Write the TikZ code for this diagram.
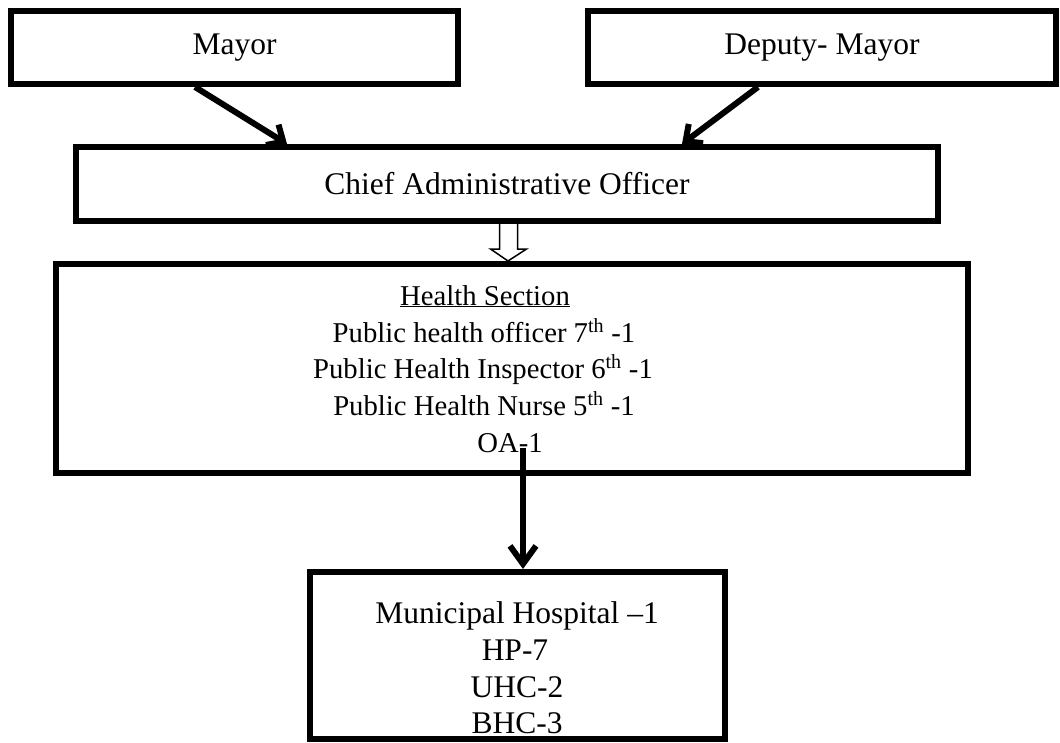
\documentclass[tikz,border=0pt]{standalone}
\usepackage{fontspec}
\setmainfont{Liberation Serif}
\usetikzlibrary{arrows.meta,calc}
\begin{document}
\begin{tikzpicture}[x=1pt,y=-1pt,
  box/.style={draw=black,line width=6pt,fill=white,inner sep=0pt,
    font=\fontsize{31.5}{37}\selectfont,align=center},
  txt/.style={anchor=base,inner sep=0pt,font=\fontsize{31.5}{37}\selectfont},
  htxt/.style={txt,font=\fontsize{28.7}{37}\selectfont},
  conn/.style={line width=6pt,-{Straight Barb[length=13pt,width=24pt]}},
  hollow/.style={draw=black,fill=white,line width=1.5pt,line join=miter}]
\useasboundingbox[fill=white] (0,0) rectangle (1060,742);
% boxes
\node[box,minimum width=447pt,minimum height=73pt] (mayor) at (234.5,47.5) {\raisebox{-3pt}{Mayor}};
\node[box,minimum width=468pt,minimum height=73pt] (deputy) at (822,47.5) {\raisebox{-3pt}{Deputy- Mayor}};
\node[box,minimum width=862pt,minimum height=74pt] (cao) at (507,184) {Chief Administrative Officer};
\node[box,minimum width=912pt,minimum height=209pt] (hs) at (512,368.5) {};
\node[box,minimum width=415pt,minimum height=167pt] (muni) at (517.5,655.5) {};
% health section text
\node[htxt] (hs1) at (485,305) {\underline{Health Section}};
\node[htxt] (hs2) at (484,342) {Public health officer 7\textsuperscript{th} -1};
\node[htxt] (hs3) at (483,378) {Public Health Inspector 6\textsuperscript{th} -1};
\node[htxt] (hs4) at (484,415) {Public Health Nurse 5\textsuperscript{th} -1};
\node[htxt] (hs5) at (510,452) {OA-1};
% municipal text
\node[txt] (m1) at (517,623) {Municipal Hospital --1};
\node[txt] (m2) at (515,660) {HP-7};
\node[txt] (m3) at (517,697) {UHC-2};
\node[txt] (m4) at (517,733) {BHC-3};
% connector coordinates
\coordinate (ma) at (195,0);
\coordinate (mb) at (287,0);
\coordinate (da) at (758,0);
\coordinate (db) at (682,0);
\coordinate (va) at (523,448);
% connectors
\draw[conn] (ma |- mayor.south) -- (mb |- cao.north);
\draw[conn] (da |- deputy.south) -- (db |- cao.north);
\draw[line width=6pt,-{Straight Barb[length=18pt,width=26pt]}] (va) -- (va |- muni.north);
% hollow arrow
\draw[hollow] ($(cao.south)+(-7.5,0)$) -- ++(0,25) -- ++(-9,0)
  -- ($(cao.south |- hs.north)+(1,0)$) -- ($(cao.south)+(19.5,25)$)
  -- ++(-9,0) -- ($(cao.south)+(10.5,0)$);
\end{tikzpicture}
\end{document}
